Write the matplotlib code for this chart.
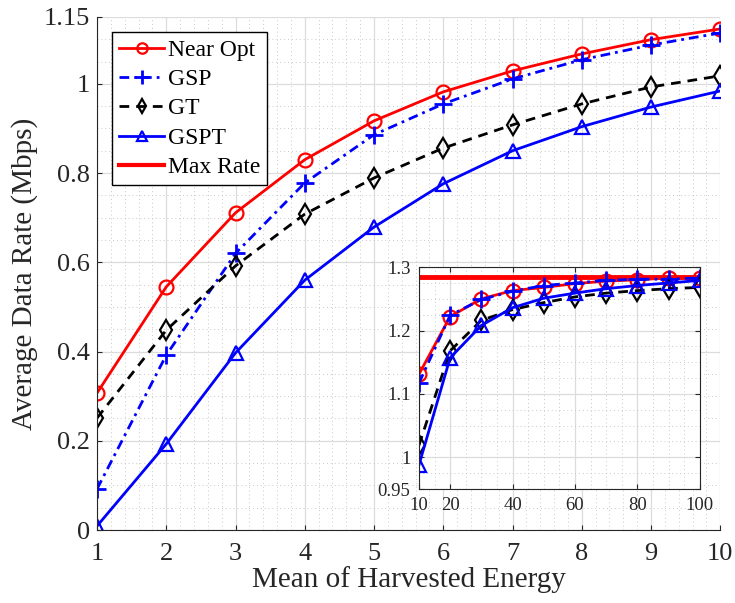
import numpy as np
import matplotlib.pyplot as plt
from matplotlib.ticker import MultipleLocator

plt.rcParams['font.family'] = ['Liberation Serif', 'DejaVu Serif']

# main plot data
energia = [1, 2, 3, 4, 5, 6, 7, 8, 9, 10]
near_opt = [0.307, 0.545, 0.711, 0.830, 0.917, 0.982, 1.029, 1.067, 1.099, 1.123]
gsp = [0.092, 0.392, 0.620, 0.778, 0.886, 0.955, 1.011, 1.054, 1.087, 1.114]
gt = [0.251, 0.448, 0.592, 0.708, 0.789, 0.856, 0.908, 0.955, 0.993, 1.018]
gspt = [0.009, 0.193, 0.397, 0.560, 0.679, 0.776, 0.850, 0.904, 0.948, 0.984]

# inset data
energia_in = [10, 20, 30, 40, 50, 60, 70, 80, 90, 100]
near_opt_in = [1.131, 1.222, 1.250, 1.263, 1.268, 1.274, 1.278, 1.280, 1.283, 1.283]
gsp_in = [1.117, 1.224, 1.249, 1.262, 1.271, 1.275, 1.279, 1.281, 1.281, 1.283]
gt_in = [1.019, 1.168, 1.216, 1.233, 1.244, 1.253, 1.259, 1.263, 1.266, 1.268]
gspt_in = [0.988, 1.157, 1.208, 1.236, 1.251, 1.259, 1.266, 1.271, 1.275, 1.279]
max_rate = 1.284

gris = '#262626'
guion_punto = (0, (3.5, 1.8, 1, 1.8))
guion = (0, (3.5, 2.5))

fig = plt.figure(figsize=(7.35, 6.03), dpi=100)
ax = fig.add_axes([0.132, 0.121, 0.848, 0.851])

estilo = dict(lw=2, ms=10, mew=1.6, mfc='none')
ax.plot(energia, near_opt, '-', color='red', marker='o', label='Near Opt', **estilo)
ax.plot(energia, gsp, ls=guion_punto, color='blue', marker='+', label='GSP', **dict(estilo, ms=13, mew=2))
ax.plot(energia, gt, ls=guion, color='black', marker='d', label='GT', **estilo)
ax.plot(energia, gspt, '-', color='blue', marker='^', label='GSPT', **estilo)
ax.plot([], [], '-', color='red', lw=3, label='Max Rate')

ax.set_xlim(1, 10)
ax.set_ylim(0, 1.15)
ax.set_xticks(range(1, 11))
ax.set_yticks([0, 0.2, 0.4, 0.6, 0.8, 1, 1.15])
ax.set_yticklabels(['0', '0.2', '0.4', '0.6', '0.8', '1', '1.15'])
ax.xaxis.set_minor_locator(MultipleLocator(0.2))
ax.yaxis.set_minor_locator(MultipleLocator(0.05))
ax.grid(which='major', color='#dcdcdc', lw=0.9)
ax.grid(which='minor', color='#c8c8c8', lw=0.7, ls=(0, (1, 3)))
ax.set_axisbelow(True)
ax.tick_params(which='both', direction='in', labelsize=19, colors=gris)
ax.tick_params(which='minor', length=0)
ax.tick_params(axis='x', pad=9)
ax.tick_params(axis='y', pad=5)
for s in ['top', 'right']:
    ax.spines[s].set_visible(False)
for s in ['left', 'bottom']:
    ax.spines[s].set_color(gris)
ax.set_xlabel('Mean of Harvested Energy', fontsize=21, color=gris, labelpad=1)
ax.set_ylabel('Average Data Rate (Mbps)', fontsize=21, color=gris, labelpad=4)

leg = ax.legend(loc='upper left', bbox_to_anchor=(0.0, 1.0), fontsize=17,
                fancybox=False, framealpha=1, edgecolor='black',
                handlelength=1.9, borderpad=0.3, labelspacing=0.33, handletextpad=0.15,
                borderaxespad=0.65, markerscale=0.75)
leg.get_frame().set_linewidth(1)

# inset
axi = fig.add_axes([0.570, 0.189, 0.382, 0.368])
axi.axhline(max_rate, color='red', lw=3.5)
axi.plot(energia_in, near_opt_in, '-', color='red', marker='o', **estilo)
axi.plot(energia_in, gsp_in, ls=guion_punto, color='blue', marker='+', **dict(estilo, ms=13, mew=2))
axi.plot(energia_in, gt_in, ls=guion, color='black', marker='d', **estilo)
axi.plot(energia_in, gspt_in, '-', color='blue', marker='^', **estilo)
axi.set_xlim(10, 100)
axi.set_ylim(0.95, 1.3)
axi.set_xticks([10, 20, 40, 60, 80, 100])
axi.set_yticks([0.95, 1, 1.1, 1.2, 1.3])
axi.set_yticklabels(['0.95', '1', '1.1', '1.2', '1.3'])
axi.xaxis.set_minor_locator(MultipleLocator(5))
axi.yaxis.set_minor_locator(MultipleLocator(0.025))
axi.grid(which='major', color='#dcdcdc', lw=0.9)
axi.grid(which='minor', color='#c8c8c8', lw=0.7, ls=(0, (1, 3)))
axi.set_axisbelow(True)
axi.tick_params(which='both', direction='in', labelsize=13.5, colors=gris, top=True, right=True)
axi.tick_params(which='minor', length=0)
axi.tick_params(axis='x', pad=6)
axi.tick_params(axis='y', pad=6)
for s in axi.spines.values():
    s.set_color(gris)

plt.savefig('out.png', dpi=100)
